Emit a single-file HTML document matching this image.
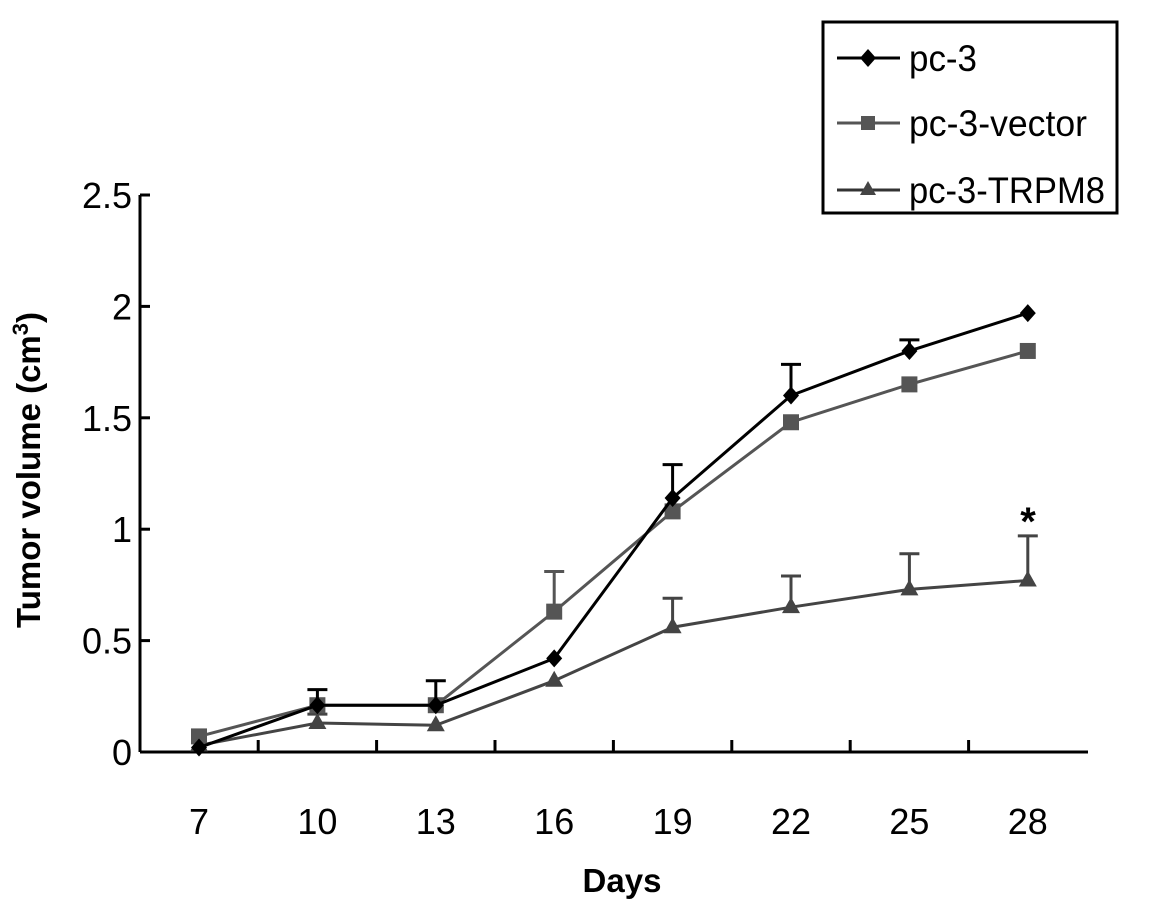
<!DOCTYPE html>
<html><head><meta charset="utf-8"><style>
body{margin:0;background:#fff;}
svg{display:block;font-family:"Liberation Sans",sans-serif;}
</style></head><body>
<svg id="chart" width="1157" height="921" viewBox="0 0 1157 921">
<g id="axes"></g><g id="series"></g>
<text x="622" y="892" font-size="33" font-weight="bold" text-anchor="middle">Days</text>
<text transform="translate(40,470) rotate(-90)" font-size="33" font-weight="bold" text-anchor="middle">Tumor volume (cm<tspan font-size="22" dy="-12">3</tspan><tspan dy="12">)</tspan></text>
<text x="1028" y="535" font-size="40" font-weight="bold" text-anchor="middle">*</text>
<g>
<rect x="823" y="22" width="294" height="191" fill="#fff" stroke="#000" stroke-width="3"/>
<line x1="837" y1="58" x2="900" y2="58" stroke="#000" stroke-width="3"/>
<path d="M868 49 L876 58 L868 67 L860 58Z" fill="#000"/>
<text x="909" y="71" font-size="37" textLength="68" lengthAdjust="spacingAndGlyphs">pc-3</text>
<line x1="837" y1="123" x2="900" y2="123" stroke="#555" stroke-width="3"/>
<rect x="861" y="116" width="14" height="14" fill="#555"/>
<text x="909" y="136" font-size="37" textLength="178" lengthAdjust="spacingAndGlyphs">pc-3-vector</text>
<line x1="837" y1="190" x2="900" y2="190" stroke="#333" stroke-width="3"/>
<path d="M868 181 L876 195 L860 195Z" fill="#444"/>
<text x="909" y="203" font-size="37" textLength="196" lengthAdjust="spacingAndGlyphs">pc-3-TRPM8</text>
</g>
</svg>
<script>
const days=[7,10,13,16,19,22,25,28];
const pc3=[0.02,0.21,0.21,0.42,1.14,1.6,1.8,1.97];
const pc3Err=[0,0.07,0.11,0,0.15,0.14,0.05,0];
const vector=[0.07,0.21,0.21,0.63,1.08,1.48,1.65,1.8];
const vectorErr=[0,0,0,0.18,0,0,0,0];
const trpm8=[0.03,0.13,0.12,0.32,0.56,0.65,0.73,0.77];
const trpm8Err=[0,0.04,0,0,0.13,0.14,0.16,0.2];
const yTicks=[0,0.5,1,1.5,2,2.5];
const NS="http://www.w3.org/2000/svg";
const X=i=>199+i*118.4;
const Y=v=>752-v*222.8;
const ax=document.getElementById('axes'),sg=document.getElementById('series');
function mk(t,a,p){const e=document.createElementNS(NS,t);for(const k in a)e.setAttribute(k,a[k]);p.appendChild(e);return e;}
let e=mk('line',{x1:140,y1:Y(2.5),x2:140,y2:752,stroke:'#000','stroke-width':3},ax);


e=mk('line',{x1:140,y1:752,x2:1088,y2:752,stroke:'#000','stroke-width':3},ax);


yTicks.forEach(v=>{mk('line',{x1:140,y1:Y(v),x2:150,y2:Y(v),stroke:'#000','stroke-width':3},ax);
const t=mk('text',{x:132,y:Y(v)+13,'font-size':36,'text-anchor':'end'},ax);t.textContent=v;

});
days.forEach((d,i)=>{if(i>0)mk('line',{x1:X(i)-59.2,y1:752,x2:X(i)-59.2,y2:740,stroke:'#000','stroke-width':3},ax);
const t=mk('text',{x:X(i),y:834,'font-size':36,'text-anchor':'middle'},ax);t.textContent=d;

});
function series(vals,errs,col,shape,name){
const g=mk('g',{},sg);


vals.forEach((v,i)=>{if(errs[i]>0){mk('line',{x1:X(i),y1:Y(v),x2:X(i),y2:Y(v+errs[i]),stroke:col,'stroke-width':3},g);
mk('line',{x1:X(i)-10,y1:Y(v+errs[i]),x2:X(i)+10,y2:Y(v+errs[i]),stroke:col,'stroke-width':3},g);}});
mk('polyline',{points:vals.map((v,i)=>X(i)+','+Y(v)).join(' '),fill:'none',stroke:col,'stroke-width':3},g);
vals.forEach((v,i)=>{const x=X(i),y=Y(v);let m;
if(shape==='d')m=mk('path',{d:`M${x} ${y-9}L${x+8} ${y}L${x} ${y+9}L${x-8} ${y}Z`,fill:col},g);
else if(shape==='s')m=mk('rect',{x:x-8,y:y-8,width:16,height:16,fill:col},g);
else m=mk('path',{d:`M${x} ${y-10}L${x+9} ${y+6}L${x-9} ${y+6}Z`,fill:col},g);

});}
series(trpm8,trpm8Err,'#444','t','series-pc3-trpm8');
series(vector,vectorErr,'#555','s','series-pc3-vector');
series(pc3,pc3Err,'#000','d','series-pc3');
</script>
</body></html>
